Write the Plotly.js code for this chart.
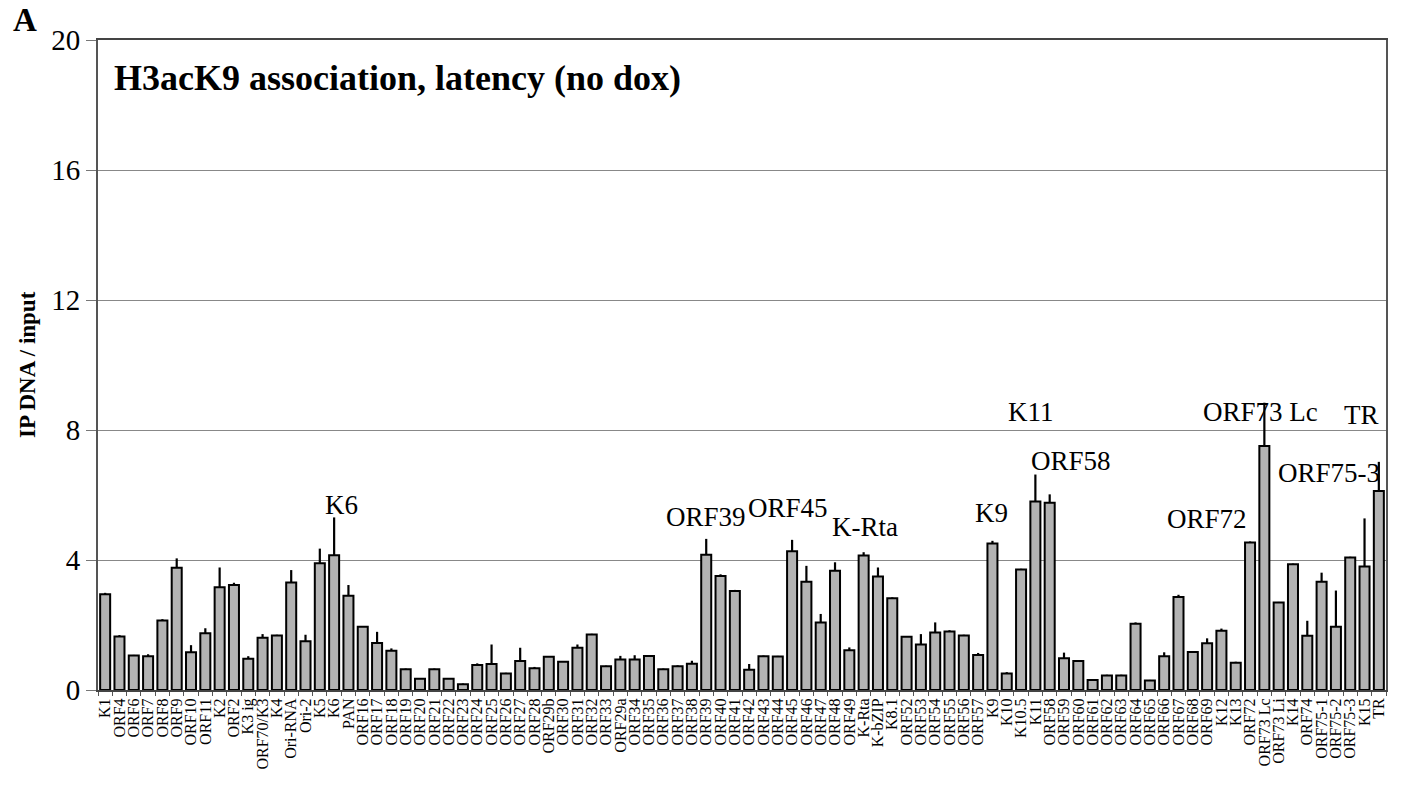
<!DOCTYPE html>
<html><head><meta charset="utf-8">
<script src="https://cdn.plot.ly/plotly-3.0.1.min.js"></script>
<style>body{margin:0;background:#fff}#chart{width:1401px;height:786px}</style>
</head><body><div id="chart"></div>
<script>
const categories = ["K1","ORF4","ORF6","ORF7","ORF8","ORF9","ORF10","ORF11","K2","ORF2","K3 ig","ORF70/K3","K4","Ori-RNA","Ori-2","K5","K6","PAN","ORF16","ORF17","ORF18","ORF19","ORF20","ORF21","ORF22","ORF23","ORF24","ORF25","ORF26","ORF27","ORF28","ORF29b","ORF30","ORF31","ORF32","ORF33","ORF29a","ORF34","ORF35","ORF36","ORF37","ORF38","ORF39","ORF40","ORF41","ORF42","ORF43","ORF44","ORF45","ORF46","ORF47","ORF48","ORF49","K-Rta","K-bZIP","K8.1","ORF52","ORF53","ORF54","ORF55","ORF56","ORF57","K9","K10","K10.5","K11","ORF58","ORF59","ORF60","ORF61","ORF62","ORF63","ORF64","ORF65","ORF66","ORF67","ORF68","ORF69","K12","K13","ORF72","ORF73 Lc","ORF73 Li","K14","ORF74","ORF75-1","ORF75-2","ORF75-3","K15","TR"];
const values = [2.95,1.65,1.06,1.04,2.14,3.76,1.16,1.75,3.16,3.23,0.96,1.61,1.68,3.31,1.50,3.90,4.15,2.90,1.95,1.45,1.21,0.64,0.35,0.64,0.35,0.18,0.77,0.80,0.51,0.89,0.67,1.02,0.87,1.30,1.71,0.73,0.94,0.94,1.05,0.64,0.73,0.81,4.16,3.51,3.05,0.62,1.04,1.03,4.27,3.33,2.08,3.67,1.22,4.14,3.49,2.82,1.64,1.40,1.77,1.80,1.68,1.08,4.51,0.51,3.71,5.80,5.76,0.98,0.89,0.31,0.45,0.45,2.04,0.29,1.04,2.86,1.17,1.44,1.82,0.84,4.54,7.51,2.69,3.87,1.67,3.33,1.95,4.08,3.80,6.12];
const errors = [0.04,0.04,0.02,0.06,0.04,0.29,0.22,0.15,0.61,0.07,0.08,0.11,0.02,0.38,0.20,0.45,1.16,0.33,0.02,0.34,0.07,0.02,0.02,0.02,0.02,0.02,0.05,0.60,0.02,0.41,0.04,0.02,0.02,0.10,0.02,0.02,0.11,0.13,0.02,0.02,0.03,0.09,0.49,0.05,0.03,0.18,0.02,0.02,0.35,0.49,0.26,0.26,0.09,0.10,0.28,0.03,0.02,0.32,0.31,0.04,0.02,0.06,0.08,0.04,0.02,0.83,0.26,0.17,0.02,0.02,0.02,0.02,0.04,0.02,0.12,0.07,0.03,0.15,0.07,0.03,0.03,1.33,0.02,0.02,0.46,0.28,1.11,0.02,1.48,0.90];
const yTicks = [0,4,8,12,16,20];
const peakLabels = ["K6","ORF39","ORF45","K-Rta","K9","K11","ORF58","ORF72","ORF73 Lc","ORF75-3","TR"];
const peakLabelX = [16.5,42.0,47.7,53.1,61.9,64.7,67.5,77.0,80.75,85.5,87.8];
const peakLabelY = [5.69,5.32,5.60,5.02,5.45,8.55,7.05,5.26,8.55,6.68,8.46];

const serif = "Liberation Serif";
const trace = {
  type: "bar",
  x: categories.map((c, i) => i),
  y: values,
  marker: {color: "#b3b3b3", line: {color: "#000", width: 2}},
  error_y: {type: "data", array: errors, arrayminus: errors.map(() => 0), symmetric: false, color: "#000", thickness: 2.2, width: 0},
  hoverinfo: "x+y"
};
const annotations = peakLabels.map((t, i) => ({
  x: peakLabelX[i], y: peakLabelY[i], xref: "x", yref: "y", text: t, showarrow: false,
  font: {family: serif, size: 27, color: "#000"}
}));
annotations.push({xref: "paper", yref: "paper", x: 0.011, y: 0.9415, xanchor: "left", yanchor: "middle",
  text: "<b>H3acK9 association, latency (no dox)</b>", showarrow: false,
  font: {family: serif, size: 36, color: "#000"}});
annotations.push({xref: "paper", yref: "paper", x: -0.0675, y: 1.031, xanchor: "left", yanchor: "middle",
  text: "<b>A</b>", showarrow: false, font: {family: serif, size: 33, color: "#000"}});
annotations.push({xref: "paper", yref: "paper", x: -0.0551, y: 0.5, xanchor: "center", yanchor: "middle",
  textangle: -90, text: "<b>IP DNA / input</b>", showarrow: false, font: {family: serif, size: 23, color: "#000"}});
const layout = {
  width: 1401, height: 786,
  margin: {l: 98, r: 15, t: 40, b: 96},
  paper_bgcolor: "#fff", plot_bgcolor: "#fff",
  bargap: 0.3,
  showlegend: false,
  xaxis: {
    type: "linear", range: [-0.5, categories.length - 0.5],
    tickmode: "array", tickvals: categories.map((c, i) => i), ticktext: categories,
    tickangle: -90, tickfont: {family: serif, size: 16, color: "#000"},
    showgrid: false, zeroline: false, showline: true, linecolor: "#444", linewidth: 2, mirror: true,
    ticks: "", fixedrange: true,
    minor: {tick0: -0.5, dtick: 1, ticks: "outside", ticklen: 4, tickcolor: "#555", tickwidth: 1, showgrid: false}
  },
  yaxis: {
    range: [0, 20], tickvals: yTicks, ticks: "outside", ticklen: 10, tickcolor: "#777",
    ticksuffix: "\u2002",
    tickfont: {family: serif, size: 29, color: "#000"},
    showgrid: true, gridcolor: "#888", gridwidth: 1, zeroline: false,
    showline: true, linecolor: "#555", linewidth: 2, mirror: true
  },
  annotations: annotations
};
Plotly.newPlot("chart", [trace], layout, {displayModeBar: false, staticPlot: true});
</script></body></html>
